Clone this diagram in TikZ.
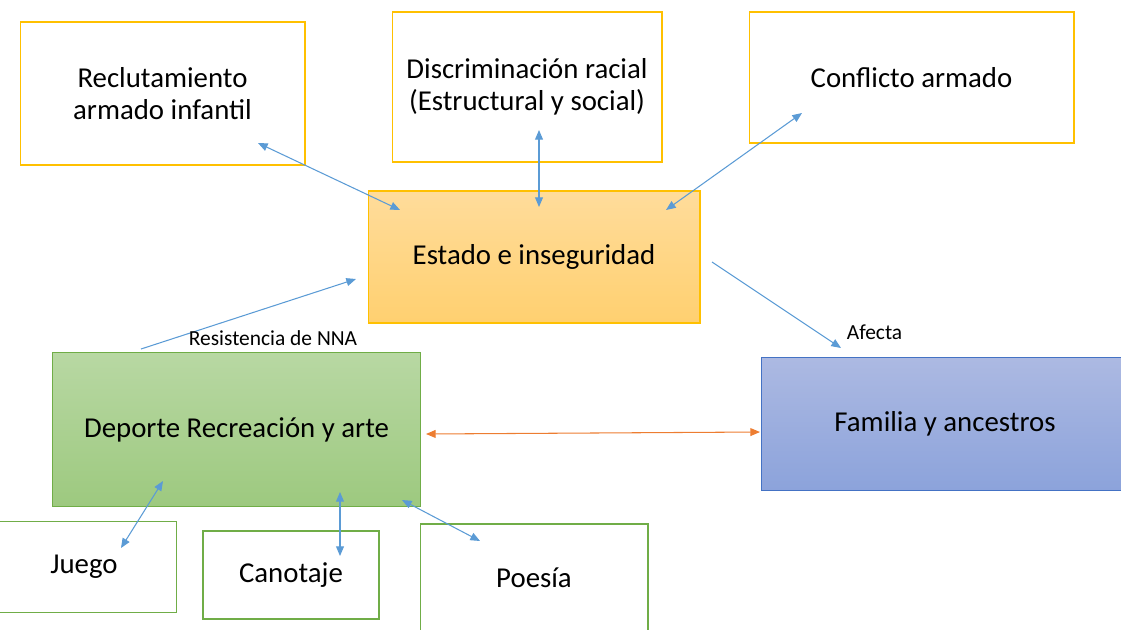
\documentclass[tikz,border=0pt]{standalone}
\usepackage{fontspec}
\setmainfont{Carlito}
\usetikzlibrary{arrows.meta}

\definecolor{oroborde}{RGB}{255,192,0}
\definecolor{verdeborde}{RGB}{112,173,71}
\definecolor{azulborde}{RGB}{68,114,196}
\definecolor{azulflecha}{RGB}{91,155,213}
\definecolor{naranjaflecha}{RGB}{237,125,49}
\definecolor{estadoarriba}{RGB}{255,220,155}
\definecolor{estadoabajo}{RGB}{255,208,112}
\definecolor{deportearriba}{RGB}{184,216,163}
\definecolor{deporteabajo}{RGB}{157,201,127}
\definecolor{familiaarriba}{RGB}{172,185,226}
\definecolor{familiaabajo}{RGB}{140,163,219}

\tikzset{
  caja/.style={draw, line width=0.6pt, inner sep=0pt, align=center,
    font=\fontsize{16.4}{18}\selectfont},
  amarilla/.style={caja, draw=oroborde},
  verde/.style={caja, draw=verdeborde},
  flecha/.style={draw=azulflecha, line width=0.6pt,
    {Triangle[length=5.5pt,width=4.5pt]}-{Triangle[length=5.5pt,width=4.5pt]}},
  etiqueta/.style={inner sep=0pt, font=\fontsize{12.2}{14}\selectfont}
}

\begin{document}
\begin{tikzpicture}[x=0.02cm,y=-0.02cm]
\useasboundingbox (0,0) rectangle (1121,629);
\clip (0,0) rectangle (1121,629);

% cajas de arriba
\node[amarilla, minimum width=5.7cm, minimum height=2.86cm] (reclut) at (162.5,93.5)
  {Reclutamiento\\armado infantil};
\node[amarilla, minimum width=5.4cm, minimum height=3cm, font=\fontsize{16.4}{18.2}\selectfont] (discrim) at (527,87)
  {Discriminación racial\\(Estructural y social)};
\node[amarilla, minimum width=6.5cm, minimum height=2.62cm] (conflicto) at (911.5,77.5)
  {Conflicto armado};

% centro
\node[caja, draw=oroborde, top color=estadoarriba, bottom color=estadoabajo,
  minimum width=6.64cm, minimum height=2.64cm] (estado) at (534,257) {Estado e inseguridad};
\node[caja, draw=verdeborde, top color=deportearriba, bottom color=deporteabajo,
  minimum width=7.38cm, minimum height=3.08cm] (deporte) at (236.5,429.5) {Deporte Recreación y arte};
\node[caja, draw=none, top color=familiaarriba, bottom color=familiaabajo,
  minimum width=7.6cm, minimum height=2.64cm] (familia) at (952,424) {Familia y ancestros\hspace*{0.28cm}};
\draw[azulborde, line width=0.6pt] (familia.north east) -- (familia.north west)
  -- (familia.south west) -- (familia.south east);

% cajas de abajo
\node[verde, draw=none, minimum width=3.92cm, minimum height=1.8cm] (juego) at (78,567) {\hspace*{0.24cm}Juego};
\draw[verdeborde, line width=0.6pt] (juego.north west) -- (juego.north east)
  -- (juego.south east) -- (juego.south west);
\node[verde, minimum width=3.52cm, minimum height=1.76cm] (canotaje) at (291,575) {Canotaje};
\node[verde, minimum width=4.56cm, minimum height=2.16cm] (poesia) at (534,578) {Poesía};

% puntas de las flechas
\coordinate (r1) at (258,143);  \coordinate (r2) at (400,210);
\coordinate (d1) at (539,130);  \coordinate (d2) at (539,207);
\coordinate (c1) at (802,113);  \coordinate (c2) at (666,210);
\coordinate (n1) at (141,349);  \coordinate (n2) at (356,279);
\coordinate (a1) at (712,262);  \coordinate (a2) at (841,348);
\coordinate (f1) at (426,434);  \coordinate (f2) at (760,432);
\coordinate (j1) at (163,481);  \coordinate (j2) at (121,548);
\coordinate (k1) at (340,492);  \coordinate (k2) at (340,556);
\coordinate (p1) at (402,500);  \coordinate (p2) at (480,541);

\draw[flecha] (r1) -- (r2);
\draw[flecha] (d1) -- (d2);
\draw[flecha] (c1) -- (c2);
\draw[flecha, draw=naranjaflecha, color=naranjaflecha] (f1) -- (f2);
\draw[flecha] (j1) -- (j2);
\draw[flecha] (k1) -- (k2);
\draw[flecha] (p1) -- (p2);
\draw[draw=azulflecha, color=azulflecha, line width=0.6pt, -{Triangle[length=5.5pt,width=4.5pt]}] (n1) -- (n2);
\draw[draw=azulflecha, color=azulflecha, line width=0.6pt, -{Triangle[length=5.5pt,width=4.5pt]}] (a1) -- (a2);

\node[etiqueta] (resist) at (273,338) {Resistencia de NNA};
\node[etiqueta] (afecta) at (874.5,332) {Afecta};
\end{tikzpicture}
\end{document}
